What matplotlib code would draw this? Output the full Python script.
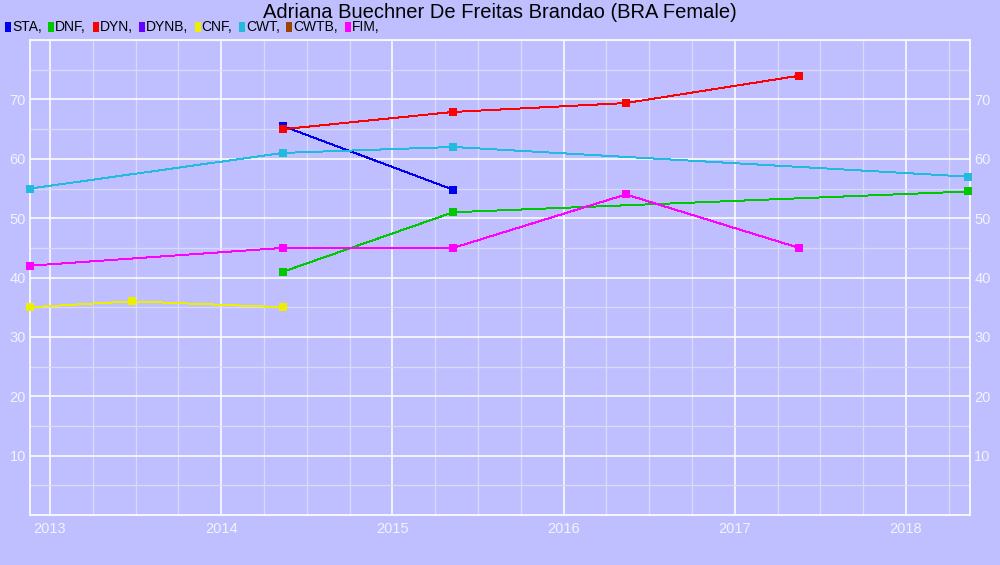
import matplotlib
matplotlib.use("Agg")
import matplotlib.pyplot as plt
from matplotlib.ticker import MultipleLocator, FixedLocator
from matplotlib.patches import Rectangle

plt.rcParams['font.family'] = ['Liberation Sans', 'DejaVu Sans']

title = "Adriana Buechner De Freitas Brandao (BRA Female)"

legend_names = ["STA", "DNF", "DYN", "DYNB", "CNF", "CWT", "CWTB", "FIM"]
legend_colors = ["#0000EE", "#00C800", "#FF0000", "#6600FF", "#EEEE00", "#22BBDD", "#994400", "#FF00FF"]

sta_x = [2014.362, 2015.355]
sta_y = [65.5, 54.8]
dnf_x = [2014.362, 2015.355, 2018.362]
dnf_y = [41.0, 51.0, 54.5]
dyn_x = [2014.362, 2015.355, 2016.364, 2017.375]
dyn_y = [65.0, 67.9, 69.4, 74.0]
cnf_x = [2012.885, 2013.478, 2014.362]
cnf_y = [35.0, 36.0, 35.0]
cwt_x = [2012.885, 2014.362, 2015.355, 2018.362]
cwt_y = [55.0, 61.0, 62.0, 57.0]
fim_x = [2012.885, 2014.362, 2015.355, 2016.364, 2017.375]
fim_y = [42.0, 45.0, 45.0, 54.0, 45.0]

series = [
    ("STA", sta_x, sta_y),
    ("DNF", dnf_x, dnf_y),
    ("DYN", dyn_x, dyn_y),
    ("CNF", cnf_x, cnf_y),
    ("CWT", cwt_x, cwt_y),
    ("FIM", fim_x, fim_y),
]
color_of = dict(zip(legend_names, legend_colors))

x_ticks = [2013, 2014, 2015, 2016, 2017, 2018]
y_ticks = [10, 20, 30, 40, 50, 60, 70]

bg = "#BFBFFF"
fig = plt.figure(figsize=(10, 5.65), dpi=100, facecolor=bg)
ax = fig.add_axes([0.03, 0.0885, 0.94, 0.8405])
ax.set_facecolor(bg)

ax.set_xlim(2012.883, 2018.374)
ax.set_ylim(0, 80)

ax.xaxis.set_major_locator(FixedLocator(x_ticks))
ax.xaxis.set_minor_locator(MultipleLocator(0.25))
ax.yaxis.set_major_locator(FixedLocator(y_ticks))
ax.yaxis.set_minor_locator(MultipleLocator(5))
ax.set_xticklabels([str(t) for t in x_ticks])
ax.set_yticklabels([str(t) for t in y_ticks])

ax.grid(which='minor', color='#DADAF6', linewidth=0.9)
ax.grid(which='major', color='#FFFFFF', linewidth=1.1)
ax.set_axisbelow(True)

for s in ax.spines.values():
    s.set_color('white')
    s.set_linewidth(1.2)

ax.tick_params(which='both', length=0, colors='#F2F2FF', labelsize=10.5)
ax.tick_params(axis='y', labelright=True, right=False, pad=3)
ax.tick_params(axis='x', pad=5)

for name, xs, ys in series:
    c = color_of[name]
    ax.plot(xs, ys, color=c, linewidth=0.7, marker='s', markersize=5.5,
            markeredgewidth=0, antialiased=False, clip_on=False, zorder=3)

fig.text(0.5, 0.978, title, ha='center', va='center', fontsize=14.5, color='black')

# legend row
fig.canvas.draw()
renderer = fig.canvas.get_renderer()
xpix = 5
ypix = 27
W, H = fig.bbox.width, fig.bbox.height
for name, c in zip(legend_names, legend_colors):
    fig.patches.append(Rectangle((xpix / W, (H - ypix - 5) / H), 6 / W, 10 / H,
                                 transform=fig.transFigure, facecolor=c, edgecolor='none'))
    t = fig.text((xpix + 7) / W, (H - ypix) / H, name + ",", ha='left', va='center',
                 fontsize=10, color='black')
    bb = t.get_window_extent(renderer=renderer)
    xpix = xpix + 7 + bb.width + 6.5

fig.savefig("out.png", dpi=100, facecolor=bg)
